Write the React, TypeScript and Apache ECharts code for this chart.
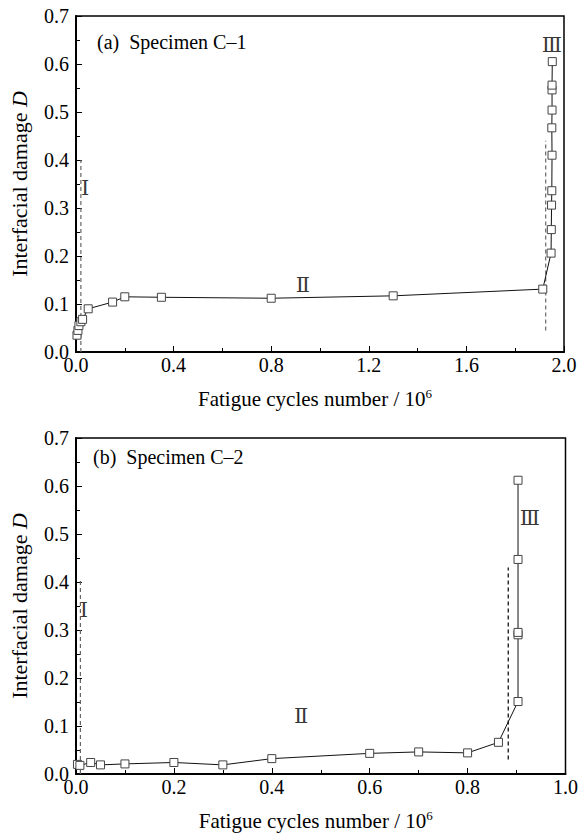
import React, { useEffect, useRef } from "react";
import * as echarts from "echarts";

// Panel (a) Specimen C-1 : [cycles / 1e6, damage D]
const dataA: [number, number][] = [
  [0.004, 0.035], [0.008, 0.045], [0.012, 0.055], [0.02, 0.063], [0.027, 0.068],
  [0.05, 0.09], [0.15, 0.104], [0.2, 0.115], [0.35, 0.114], [0.8, 0.112],
  [1.3, 0.117], [1.913, 0.131], [1.947, 0.206], [1.948, 0.255], [1.949, 0.306],
  [1.95, 0.336], [1.951, 0.41], [1.95, 0.467], [1.951, 0.504], [1.951, 0.546],
  [1.951, 0.556], [1.952, 0.605],
];
// Panel (b) Specimen C-2
const dataB: [number, number][] = [
  [0.003, 0.02], [0.008, 0.018], [0.03, 0.024], [0.05, 0.019], [0.1, 0.021],
  [0.2, 0.024], [0.3, 0.019], [0.4, 0.032], [0.6, 0.043], [0.7, 0.046],
  [0.8, 0.044], [0.863, 0.066], [0.903, 0.151], [0.903, 0.29], [0.903, 0.295],
  [0.903, 0.447], [0.903, 0.612],
];
// stage boundary dashed lines
const dashA1: [number, number][] = [[0.02, 0], [0.02, 0.4]];
const dashA3: [number, number][] = [[1.925, 0.045], [1.925, 0.44]];
const dashB1: [number, number][] = [[0.009, 0], [0.009, 0.405]];
const dashB3: [number, number][] = [[0.883, 0.03], [0.883, 0.43]];
// stage labels [x, y, text]
const stageA: [number, number, string][] = [[0.037, 0.342, "Ⅰ"], [0.93, 0.14, "Ⅱ"], [1.95, 0.64, "Ⅲ"]];
const stageB: [number, number, string][] = [[0.016, 0.342, "Ⅰ"], [0.46, 0.12, "Ⅱ"], [0.927, 0.533, "Ⅲ"]];

const titleA = "(a)  Specimen C–1";
const titleB = "(b)  Specimen C–2";
const xName = "Fatigue cycles number / 10{sup|6}";
const yName = "Interfacial damage {i|D}";

const FONT = "'Liberation Serif', 'Times New Roman', serif";

export default function App() {
  const ref = useRef<HTMLDivElement>(null);
  useEffect(() => {
    if (!ref.current) return;
    const chart = echarts.init(ref.current, null, { renderer: "svg" });
    const grids = [
      { left: 75, top: 16, width: 489, height: 336 },
      { left: 72, top: 438, width: 496, height: 336 },
    ].map((g) => ({ ...g, show: true, borderColor: "#000", borderWidth: 1.5, backgroundColor: "transparent" }));

    const mkX = (gi: number, max: number, interval: number) => ({
      type: "value",
      gridIndex: gi,
      min: 0,
      max,
      interval,
      name: xName,
      nameLocation: "middle",
      nameGap: 35,
      nameTextStyle: {
        fontFamily: FONT, fontSize: 21, color: "#000",
        padding: [0, 10, 0, 0],
        rich: { sup: { fontFamily: FONT, fontSize: 13, color: "#000", padding: [0, 0, 10, 0] } },
      },
      axisLine: { show: true, onZero: false, lineStyle: { color: "#000", width: 2 } },
      axisTick: { show: true, inside: true, length: 6, lineStyle: { color: "#000", width: 1 } },
      minorTick: { show: true, splitNumber: 2, length: 4, lineStyle: { color: "#000", width: 1 } },
      axisLabel: { fontFamily: FONT, fontSize: 20, lineHeight: 15, color: "#000", margin: 5, formatter: (v: number) => v.toFixed(1) },
      splitLine: { show: false },
    });
    const mkY = (gi: number) => ({
      type: "value",
      gridIndex: gi,
      min: 0,
      max: 0.7,
      interval: 0.1,
      name: yName,
      nameLocation: "middle",
      nameGap: 46,
      nameRotate: 90,
      nameTextStyle: {
        fontFamily: FONT, fontSize: 22, color: "#000",
        rich: { i: { fontFamily: FONT, fontSize: 22, fontStyle: "italic", color: "#000" } },
      },
      axisLine: { show: true, onZero: false, lineStyle: { color: "#000", width: 2 } },
      axisTick: { show: true, inside: true, length: 6, lineStyle: { color: "#000", width: 1 } },
      minorTick: { show: true, splitNumber: 2, length: 4, lineStyle: { color: "#000", width: 1 } },
      axisLabel: { fontFamily: FONT, fontSize: 20, lineHeight: 15, color: "#000", margin: 7, formatter: (v: number) => v.toFixed(1) },
      splitLine: { show: false },
    });

    const dataLine = (idx: number, data: [number, number][]) => ({
      type: "line",
      xAxisIndex: idx,
      yAxisIndex: idx,
      data,
      symbol: "rect",
      symbolSize: 8,
      itemStyle: { color: "#fff", borderColor: "#444", borderWidth: 1 },
      lineStyle: { color: "#111", width: 1 },
      z: 3,
    });
    const dash = (idx: number, data: [number, number][], color: string) => ({
      type: "line",
      xAxisIndex: idx,
      yAxisIndex: idx,
      data,
      symbol: "none",
      lineStyle: { color, width: 1.2, type: [4, 3] },
      z: 2,
    });
    const labels = (idx: number, data: [number, number, string][]) => ({
      type: "scatter",
      xAxisIndex: idx,
      yAxisIndex: idx,
      data: data.map((d) => ({ value: [d[0], d[1]], name: d[2] })),
      symbolSize: 0,
      label: {
        show: true,
        position: "inside",
        formatter: (p: any) => p.name,
        fontFamily: "'DejaVu Serif', 'Liberation Serif', serif",
        fontSize: 21,
        color: "#000",
      },
      z: 4,
    });

    chart.setOption({
      animation: false,
      backgroundColor: "#fff",
      grid: grids,
      xAxis: [mkX(0, 2.0, 0.4), mkX(1, 1.0, 0.2)],
      yAxis: [mkY(0), mkY(1)],
      graphic: [
        { type: "text", left: 97, top: 32, style: { text: titleA, fontFamily: FONT, fontSize: 20, fill: "#000" } },
        { type: "text", left: 93, top: 447, style: { text: titleB, fontFamily: FONT, fontSize: 20, fill: "#000" } },
      ],
      series: [
        dash(0, dashA1, "#666"),
        dash(0, dashA3, "#666"),
        dataLine(0, dataA),
        labels(0, stageA),
        dash(1, dashB1, "#666"),
        dash(1, dashB3, "#000"),
        dataLine(1, dataB),
        labels(1, stageB),
      ],
    });
    return () => chart.dispose();
  }, []);
  return <div ref={ref} style={{ position: "absolute", left: 0, top: 0, width: 581, height: 835 }} />;
}
